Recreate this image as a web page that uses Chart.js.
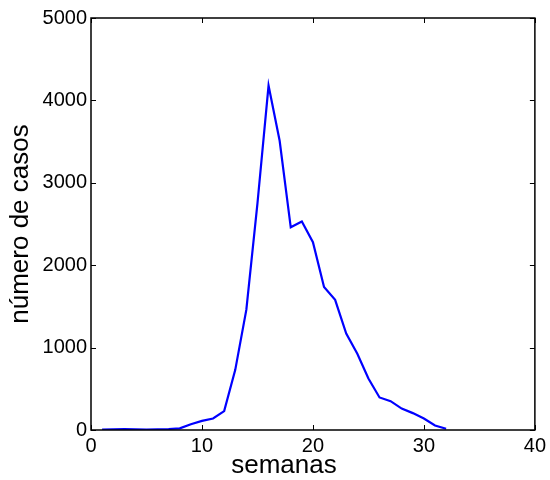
<!DOCTYPE html>
<html>
<head>
<meta charset="utf-8">
<script src="https://cdn.jsdelivr.net/npm/chart.js@4/dist/chart.umd.min.js"></script>
<style>
  html, body { margin: 0; padding: 0; background: #fff; }
  #wrap { width: 550px; height: 480px; }
</style>
</head>
<body>
<div id="wrap"><canvas id="chart"></canvas></div>
<script>
// Data
const weeks = [1, 2, 3, 4, 5, 6, 7, 8, 9, 10, 11, 12, 13, 14, 15, 16,
               17, 18, 19, 20, 21, 22, 23, 24, 25, 26, 27, 28, 29, 30, 31, 32];
const cases = [5, 8, 10, 8, 6, 8, 12, 20, 70, 110, 140, 230, 730, 1460, 2750, 4180,
               3510, 2460, 2530, 2280, 1735, 1580, 1170, 925, 625, 395, 350, 260, 205, 140, 55, 15];
const xTicks = [0, 10, 20, 30, 40];
const yTicks = [0, 1000, 2000, 3000, 4000, 5000];
const xTitle = "semanas";
const yTitle = "número de casos";

const FONT = "'Liberation Sans', Arial, sans-serif";

// Inward ticks on all four sides plus the box, MATLAB style
const boxPlugin = {
  id: "box",
  afterDraw(chart) {
    const { ctx, chartArea: a, scales } = chart;
    const len = 5;
    ctx.save();
    ctx.strokeStyle = "#000";
    ctx.lineWidth = 1;
    ctx.beginPath();
    xTicks.forEach((v) => {
      const px = Math.round(scales.x.getPixelForValue(v)) + 0.5;
      ctx.moveTo(px, a.bottom); ctx.lineTo(px, a.bottom - len);
      ctx.moveTo(px, a.top); ctx.lineTo(px, a.top + len);
    });
    yTicks.forEach((v) => {
      const py = Math.round(scales.y.getPixelForValue(v)) + 0.5;
      ctx.moveTo(a.left, py); ctx.lineTo(a.left + len, py);
      ctx.moveTo(a.right, py); ctx.lineTo(a.right - len, py);
    });
    ctx.stroke();
    ctx.lineWidth = 1.5;
    ctx.strokeRect(a.left, a.top, a.right - a.left, a.bottom - a.top);
    // x axis title (sits left of centre in the reference)
    ctx.fillStyle = "#000";
    ctx.font = "26px " + FONT;
    ctx.textAlign = "center";
    ctx.textBaseline = "middle";
    ctx.fillText(xTitle, 284, 466);
    ctx.restore();
  },
};

new Chart(document.getElementById("chart"), {
  type: "line",
  data: {
    datasets: [{
      data: weeks.map((w, i) => ({ x: w, y: cases[i] })),
      borderColor: "#0000ff",
      borderWidth: 2.2,
      pointRadius: 0,
      tension: 0,
      fill: false,
    }],
  },
  options: {
    responsive: true,
    maintainAspectRatio: false,
    animation: false,
    layout: { padding: { top: 18, right: 14, left: 0, bottom: 0 } },
    plugins: { legend: { display: false }, tooltip: { enabled: false } },
    scales: {
      x: {
        type: "linear",
        min: 0,
        max: 40,
        afterBuildTicks: (s) => { s.ticks = xTicks.map((v) => ({ value: v })); },
        afterFit: (s) => { s.height = 50; },
        grid: { display: false, drawTicks: false },
        border: { display: false },
        ticks: { color: "#000", font: { family: FONT, size: 20 }, padding: 4, maxRotation: 0 },
      },
      y: {
        min: 0,
        max: 5000,
        afterBuildTicks: (s) => { s.ticks = yTicks.map((v) => ({ value: v })); },
        afterFit: (s) => { s.width = 91; },
        grid: { display: false, drawTicks: false },
        border: { display: false },
        ticks: {
          color: "#000",
          font: { family: FONT, size: 20 },
          padding: 4,
          callback: (v) => String(v),
        },
        title: {
          display: true,
          text: yTitle,
          color: "#000",
          font: { family: FONT, size: 26 },
          padding: { top: 5, bottom: 0 },
        },
      },
    },
  },
  plugins: [boxPlugin],
});
</script>
</body>
</html>
